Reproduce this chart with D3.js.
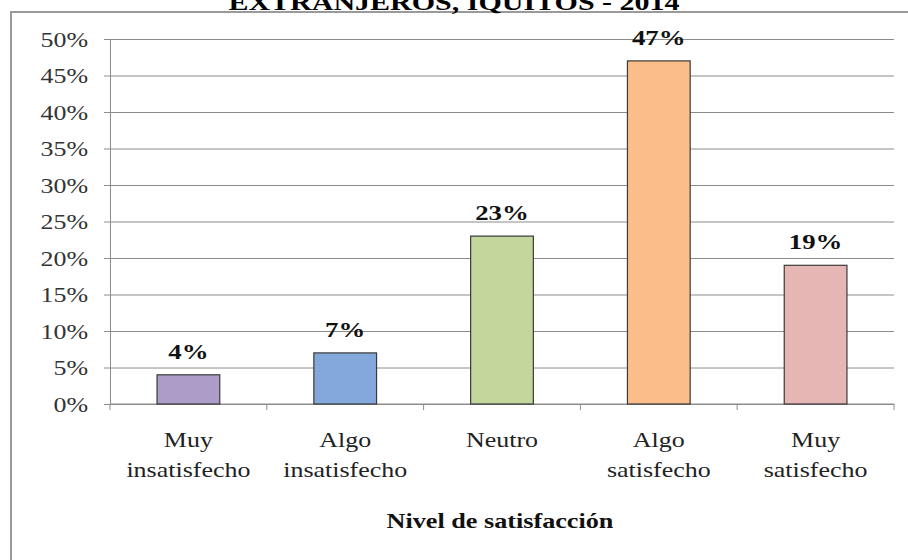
<!DOCTYPE html>
<html>
<head>
<meta charset="utf-8">
<script src="https://cdn.jsdelivr.net/npm/d3@7"></script>
<style>
  html, body { margin: 0; padding: 0; background: #fff; }
  svg { display: block; }
  text { font-family: "Liberation Serif", "Times New Roman", serif; }
</style>
</head>
<body>
<svg id="chart" width="908" height="560"></svg>
<script>
// Satisfaction level distribution (percent)
const categories = [
  ["Muy", "insatisfecho"],
  ["Algo", "insatisfecho"],
  ["Neutro"],
  ["Algo", "satisfecho"],
  ["Muy", "satisfecho"]
];
const values = [4, 7, 23, 47, 19];
const barColors = ["#ab9cc8", "#82a8dc", "#c3d69b", "#fbbd8a", "#e6b6b5"];
const tickValues = [0, 5, 10, 15, 20, 25, 30, 35, 40, 45, 50];
const titleText = "EXTRANJEROS, IQUITOS - 2014";
const xTitle = "Nivel de satisfacción";

const svg = d3.select("#chart");
const plot = { left: 110, right: 894, top: 39, bottom: 404 };

// widen glyphs horizontally (the chart's lettering is set wide)
function widen(sel, factor) {
  sel.each(function () {
    const len = this.getComputedTextLength();
    d3.select(this).attr("textLength", len * factor).attr("lengthAdjust", "spacingAndGlyphs");
  });
}

const x = d3.scaleBand()
  .domain(d3.range(categories.length))
  .range([plot.left, plot.right])
  .paddingInner(0.6)
  .paddingOuter(0.3);

const y = d3.scaleLinear().domain([0, 50]).range([plot.bottom, plot.top]);

// outer frame (left and top edges)
svg.append("line").attr("x1", 11).attr("x2", 11).attr("y1", 12).attr("y2", 560)
  .attr("stroke", "#9a9a9a").attr("stroke-width", 2);
svg.append("line").attr("x1", 10).attr("x2", 908).attr("y1", 12).attr("y2", 12)
  .attr("stroke", "#9a9a9a").attr("stroke-width", 2);

// title (upper part runs above the page edge)
const title = svg.append("text")
  .attr("x", 454).attr("y", 10)
  .attr("text-anchor", "middle")
  .attr("font-weight", "bold")
  .attr("font-size", 24)
  .attr("fill", "#000")
  .text(titleText);
widen(title, 1.25);

// gridlines + y axis
const yAxis = d3.axisLeft(y)
  .tickValues(tickValues)
  .tickSize(-(plot.right - plot.left))
  .tickSizeOuter(0)
  .tickPadding(22)
  .tickFormat(d => d + "%");

const gy = svg.append("g")
  .attr("transform", `translate(${plot.left},0)`)
  .call(yAxis);
gy.select(".domain").attr("stroke", "#8c8c8c");
gy.selectAll(".tick line")
  .attr("stroke", "#8c8c8c")
  .attr("x1", -6);
const yLabels = gy.selectAll(".tick text")
  .attr("font-size", 22)
  .attr("fill", "#333")
  .style("font-family", "'Liberation Serif', serif");
widen(yLabels, 1.18);

// x axis baseline and boundary ticks
const step = (plot.right - plot.left) / categories.length;
svg.append("line")
  .attr("x1", plot.left).attr("x2", plot.right)
  .attr("y1", y(0)).attr("y2", y(0))
  .attr("stroke", "#8c8c8c");
svg.append("g").selectAll("line")
  .data(d3.range(categories.length + 1))
  .join("line")
  .attr("x1", i => plot.left + i * step).attr("x2", i => plot.left + i * step)
  .attr("y1", y(0)).attr("y2", y(0) + 6)
  .attr("stroke", "#8c8c8c");

// bars
svg.append("g").selectAll("rect")
  .data(values)
  .join("rect")
  .attr("x", (d, i) => x(i))
  .attr("y", d => y(d))
  .attr("width", x.bandwidth())
  .attr("height", d => y(0) - y(d))
  .attr("fill", (d, i) => barColors[i])
  .attr("stroke", "#3a3a3a")
  .attr("stroke-width", 1.2);

// value labels
const valueLabels = svg.append("g").selectAll("text")
  .data(values)
  .join("text")
  .attr("x", (d, i) => x(i) + x.bandwidth() / 2)
  .attr("y", d => y(d) - 16)
  .attr("text-anchor", "middle")
  .attr("font-weight", "bold")
  .attr("font-size", 22)
  .attr("fill", "#111")
  .text(d => d + "%");
widen(valueLabels, 1.22);

// category labels, one line per text element
const cat = svg.append("g").selectAll("g")
  .data(categories)
  .join("g");
const catLines = cat.selectAll("text")
  .data((d, i) => d.map((t, j) => ({ t, i, j })))
  .join("text")
  .attr("x", d => x(d.i) + x.bandwidth() / 2)
  .attr("y", d => 447 + d.j * 30)
  .attr("text-anchor", "middle")
  .attr("font-size", 22)
  .attr("fill", "#222")
  .text(d => d.t);
widen(catLines, 1.18);

// axis title
const axisTitle = svg.append("text")
  .attr("x", 500).attr("y", 528)
  .attr("text-anchor", "middle")
  .attr("font-weight", "bold")
  .attr("font-size", 22)
  .attr("fill", "#111")
  .text(xTitle);
widen(axisTitle, 1.19);
</script>
</body>
</html>
